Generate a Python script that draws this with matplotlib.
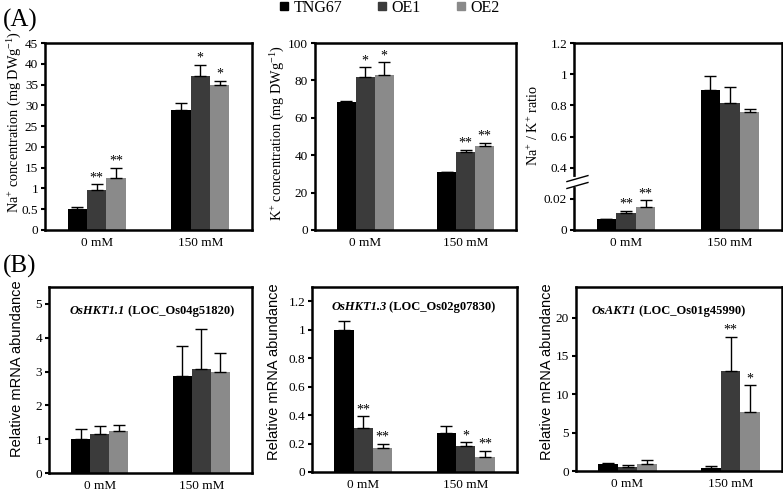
import numpy as np
import matplotlib
matplotlib.use("Agg")
import matplotlib.pyplot as plt
from matplotlib.lines import Line2D

plt.rcParams['font.family'] = ['Liberation Serif', 'DejaVu Serif']
plt.rcParams['mathtext.fontset'] = 'custom'
plt.rcParams['mathtext.rm'] = 'Liberation Serif'
plt.rcParams['mathtext.default'] = 'regular'

# data
groups = ['0 mM', '150 mM']
lines = ['TNG67', 'OE1', 'OE2']
colors = ['#000000', '#3b3b3b', '#8a8a8a']

# (A) ion content: rows = lines, columns = groups
na_mean = [[0.50, 28.9], [0.96, 37.0], [1.26, 34.8]]
na_err = [[0.05, 1.6], [0.14, 2.8], [0.24, 1.1]]
na_star = [['', ''], ['**', '*'], ['**', '*']]

k_mean = [[68.4, 30.9], [81.8, 41.6], [83.0, 45.0]]
k_err = [[0.6, 0.3], [5.3, 1.3], [6.6, 1.5]]
k_star = [['', ''], ['*', '**'], ['*', '**']]

ratio_mean = [[0.0071, 0.90], [0.0112, 0.817], [0.0150, 0.757]]
ratio_err = [[0.0002, 0.09], [0.0013, 0.10], [0.0040, 0.02]]
ratio_star = [['', ''], ['**', ''], ['**', '']]

# (B) relative mRNA abundance
hkt11_mean = [[1.0, 2.86], [1.16, 3.08], [1.24, 2.99]]
hkt11_err = [[0.30, 0.90], [0.24, 1.17], [0.19, 0.55]]
hkt11_star = [['', ''], ['', ''], ['', '']]

hkt13_mean = [[1.0, 0.277], [0.308, 0.186], [0.17, 0.103]]
hkt13_err = [[0.06, 0.043], [0.085, 0.022], [0.027, 0.047]]
hkt13_star = [['', ''], ['**', '*'], ['**', '**']]

akt1_mean = [[0.9, 0.35], [0.55, 13.0], [0.9, 7.7]]
akt1_err = [[0.08, 0.3], [0.25, 4.5], [0.55, 3.5]]
akt1_star = [['', ''], ['', '**'], ['', '*']]

W, H = 783, 492
fig = plt.figure(figsize=(W / 100, H / 100), dpi=100)


def make_axes(l, t, r, b):
    return fig.add_axes([l / W, 1 - b / H, (r - l) / W, (b - t) / H])


def broken_scale(ax, lo_top, factor, hi_start):
    # low part stretched by factor, gap squeezed out
    def fwd(y):
        y = np.asarray(y, dtype=float)
        return np.where(y <= lo_top, y * factor, np.maximum(y, hi_start))

    def inv(x):
        x = np.asarray(x, dtype=float)
        return np.where(x <= hi_start, x / factor, x)
    ax.set_yscale('function', functions=(fwd, inv))


def bar_panel(ax, mean, err, stars, ylim, yticks, ylabel, lab_x, lab_y, sans=False):
    x = np.arange(len(groups))
    wdt = 0.188
    for i in range(len(lines)):
        xs = x + (i - 1) * wdt
        ax.bar(xs, mean[i], wdt, color=colors[i], zorder=2)
        ax.errorbar(xs, mean[i], yerr=[np.zeros(len(groups)), err[i]], fmt='none',
                    ecolor='black', elinewidth=1, capsize=4, capthick=1, zorder=3)
        for j in range(len(groups)):
            if stars[i][j]:
                ax.annotate(stars[i][j], (xs[j], mean[i][j] + err[i][j]),
                            xytext=(0, 0), textcoords='offset points',
                            ha='center', va='bottom', fontsize=10)
    ax.set_xlim(-0.5, 1.5)
    ax.set_ylim(*ylim)
    ax.set_xticks(x, groups, fontsize=9.5)
    ax.set_yticks(yticks, [('%g' % v) for v in yticks], fontsize=9.5)
    ax.tick_params(axis='x', length=0, pad=5)
    ax.tick_params(axis='y', length=3, width=1.5, pad=2, direction='out')
    for s in ax.spines.values():
        s.set_linewidth(1.8)
    if sans:
        ax.set_ylabel(ylabel, fontsize=10.5, family=['Liberation Sans', 'DejaVu Sans'])
    else:
        ax.set_ylabel(ylabel, fontsize=10.3)
    pos = ax.get_position()
    ax.yaxis.set_label_coords((lab_x / W - pos.x0) / pos.width, lab_y)


# (A)
ax1 = make_axes(45, 43, 252, 230)
broken_scale(ax1, 1.5, 10, 15)
bar_panel(ax1, na_mean, na_err, na_star, (0, 45),
          [0, 0.5, 1, 15, 20, 25, 30, 35, 40, 45],
          r'Na$^{+}$ concentration (mg DWg$^{-1}$)', 24, 0.58)

ax2 = make_axes(315, 43, 516, 230)
bar_panel(ax2, k_mean, k_err, k_star, (0, 100), [0, 20, 40, 60, 80, 100],
          r'K$^{+}$ concentration (mg DWg$^{-1}$)', 287, 0.52)

ax3 = make_axes(574, 43, 782, 230)
broken_scale(ax3, 0.03, 10, 0.3)
bar_panel(ax3, ratio_mean, ratio_err, ratio_star, (0, 1.2),
          [0, 0.02, 0.4, 0.6, 0.8, 1, 1.2],
          r'Na$^{+}$ / K$^{+}$ ratio', 541, 0.56)
# axis break marks
ax3.plot([0, 0], [0.238, 0.275], transform=ax3.transAxes, color='white',
         lw=3, clip_on=False, zorder=5)
for yb in (0.238, 0.275):
    ax3.plot([-0.034, 0.067], [yb - 0.016, yb + 0.016], transform=ax3.transAxes,
             color='black', lw=1, clip_on=False, zorder=6)

# (B)
ax4 = make_axes(49, 287, 252, 473)
bar_panel(ax4, hkt11_mean, hkt11_err, hkt11_star, (0, 5.5), [0, 1, 2, 3, 4, 5],
          'Relative mRNA abundance', 24, 0.56, sans=True)
ax5 = make_axes(312, 287, 517, 472)
bar_panel(ax5, hkt13_mean, hkt13_err, hkt13_star, (0, 1.3),
          [0, 0.2, 0.4, 0.6, 0.8, 1, 1.2], 'Relative mRNA abundance', 281, 0.54,
          sans=True)
ax6 = make_axes(576, 287, 782, 471)
bar_panel(ax6, akt1_mean, akt1_err, akt1_star, (0, 24), [0, 5, 10, 15, 20],
          'Relative mRNA abundance', 554, 0.54, sans=True)

titles = [(ax4, 'OsHKT1.1', ' (LOC_Os04g51820)', 0.10, 0.87),
          (ax5, 'OsHKT1.3', ' (LOC_Os02g07830)', 0.093, 0.89),
          (ax6, 'OsAKT1', ' (LOC_Os01g45990)', 0.075, 0.87)]
for ax, gene, loc, tx, ty in titles:
    t1 = ax.text(tx, ty, gene, transform=ax.transAxes, fontsize=9,
                 fontweight='bold', style='italic', ha='left', va='center')
    ax.annotate(loc, xy=(1, 0.5), xycoords=t1, ha='left', va='center',
                fontsize=9, fontweight='bold')

fig.text(3 / W, 1 - 20 / H, '(A)', fontsize=18, ha='left', va='center')
fig.text(3 / W, 1 - 266 / H, '(B)', fontsize=18, ha='left', va='center')

handles = [Line2D([], [], marker='s', ls='none', color=c, markersize=6) for c in colors]
fig.legend(handles, lines, loc='center', bbox_to_anchor=(0.497, 1 - 8 / H),
           ncol=3, frameon=False, fontsize=11.5, handlelength=0.6,
           handletextpad=0.3, columnspacing=2.2, borderpad=0)

fig.savefig('out.png', dpi=100)
